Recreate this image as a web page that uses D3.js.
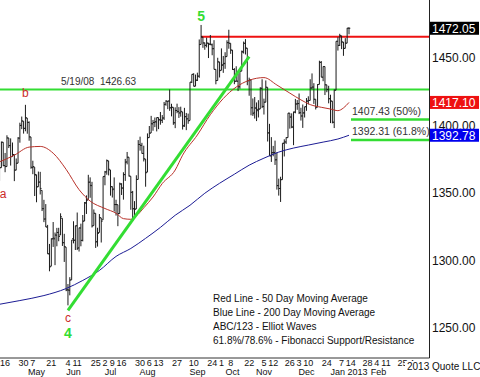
<!DOCTYPE html>
<html>
<head>
<meta charset="utf-8">
<script src="https://cdn.jsdelivr.net/npm/d3@7"></script>
<style>
  body { margin: 0; background: #fff; }
  svg { display: block; font-family: "Liberation Sans", Arial, sans-serif; }
</style>
</head>
<body>
<div id="chart"></div>
<script>
// S&P 500 daily OHLC, Apr 10 2012 .. Jan 11 2013, with Elliott wave marks,
// 50/200 day moving averages and Fibonacci levels.

const days = [
  "2012-04-10","2012-04-11","2012-04-12","2012-04-13","2012-04-16","2012-04-17","2012-04-18","2012-04-19","2012-04-20","2012-04-23","2012-04-24","2012-04-25","2012-04-26","2012-04-27","2012-04-30",
  "2012-05-01","2012-05-02","2012-05-03","2012-05-04","2012-05-07","2012-05-08","2012-05-09","2012-05-10","2012-05-11","2012-05-14","2012-05-15","2012-05-16","2012-05-17","2012-05-18","2012-05-21","2012-05-22","2012-05-23","2012-05-24","2012-05-25","2012-05-29","2012-05-30","2012-05-31",
  "2012-06-01","2012-06-04","2012-06-05","2012-06-06","2012-06-07","2012-06-08","2012-06-11","2012-06-12","2012-06-13","2012-06-14","2012-06-15","2012-06-18","2012-06-19","2012-06-20","2012-06-21","2012-06-22","2012-06-25","2012-06-26","2012-06-27","2012-06-28","2012-06-29",
  "2012-07-02","2012-07-03","2012-07-05","2012-07-06","2012-07-09","2012-07-10","2012-07-11","2012-07-12","2012-07-13","2012-07-16","2012-07-17","2012-07-18","2012-07-19","2012-07-20","2012-07-23","2012-07-24","2012-07-25","2012-07-26","2012-07-27","2012-07-30","2012-07-31",
  "2012-08-01","2012-08-02","2012-08-03","2012-08-06","2012-08-07","2012-08-08","2012-08-09","2012-08-10","2012-08-13","2012-08-14","2012-08-15","2012-08-16","2012-08-17","2012-08-20","2012-08-21","2012-08-22","2012-08-23","2012-08-24","2012-08-27","2012-08-28","2012-08-29","2012-08-30","2012-08-31",
  "2012-09-04","2012-09-05","2012-09-06","2012-09-07","2012-09-10","2012-09-11","2012-09-12","2012-09-13","2012-09-14","2012-09-17","2012-09-18","2012-09-19","2012-09-20","2012-09-21","2012-09-24","2012-09-25","2012-09-26","2012-09-27","2012-09-28",
  "2012-10-01","2012-10-02","2012-10-03","2012-10-04","2012-10-05","2012-10-08","2012-10-09","2012-10-10","2012-10-11","2012-10-12","2012-10-15","2012-10-16","2012-10-17","2012-10-18","2012-10-19","2012-10-22","2012-10-23","2012-10-24","2012-10-25","2012-10-26","2012-10-31",
  "2012-11-01","2012-11-02","2012-11-05","2012-11-06","2012-11-07","2012-11-08","2012-11-09","2012-11-12","2012-11-13","2012-11-14","2012-11-15","2012-11-16","2012-11-19","2012-11-20","2012-11-21","2012-11-23","2012-11-26","2012-11-27","2012-11-28","2012-11-29","2012-11-30",
  "2012-12-03","2012-12-04","2012-12-05","2012-12-06","2012-12-07","2012-12-10","2012-12-11","2012-12-12","2012-12-13","2012-12-14","2012-12-17","2012-12-18","2012-12-19","2012-12-20","2012-12-21","2012-12-24","2012-12-26","2012-12-27","2012-12-28","2012-12-31",
  "2013-01-02","2013-01-03","2013-01-04","2013-01-07","2013-01-08","2013-01-09","2013-01-10","2013-01-11"
];

const opens = [
  1382.2,1358.98,1368.77,1387.61,1370.27,1369.57,1390.78,1385.08,1376.96,1378.53,1366.97,1372.11,1390.64,1400.19,1403.26,
  1397.86,1405.5,1402.32,1391.51,1368.79,1369.16,1363.2,1354.58,1358.11,1351.93,1338.36,1330.78,1324.82,1305.05,1295.73,1316.09,1316.02,1318.72,1320.81,1318.9,1331.25,1313.09,
  1309.87,1278.29,1277.82,1285.61,1316.15,1314.99,1325.72,1309.4,1324.02,1314.88,1329.19,1342.42,1344.83,1358.04,1355.43,1325.92,1334.9,1314.09,1320.71,1331.52,1330.12,
  1362.33,1365.75,1373.72,1367.09,1354.66,1352.96,1341.4,1341.29,1334.81,1356.5,1353.68,1363.58,1373.01,1376.51,1362.34,1350.52,1338.35,1338.17,1360.05,1385.94,1385.27,
  1379.32,1375.13,1365.45,1391.04,1394.46,1401.23,1402.26,1402.58,1405.87,1404.36,1403.89,1405.57,1415.84,1417.85,1418.13,1413.09,1413.49,1401.99,1411.13,1410.44,1409.32,1410.08,1400.07,
  1406.54,1404.94,1403.74,1432.12,1437.92,1429.13,1433.56,1436.56,1460.07,1465.42,1461.19,1459.5,1461.05,1460.34,1459.76,1456.94,1441.6,1433.36,1447.13,
  1440.9,1444.99,1446.05,1451.08,1461.4,1460.93,1455.9,1441.48,1432.82,1432.84,1428.75,1440.31,1454.22,1460.94,1457.34,1433.21,1433.74,1413.2,1409.74,1412.97,1410.99,
  1412.2,1427.59,1414.02,1417.26,1428.27,1394.53,1377.55,1379.86,1380.03,1374.64,1355.41,1353.36,1359.88,1386.82,1387.79,1391.03,1409.15,1406.29,1398.77,1409.96,1415.95,
  1416.34,1409.46,1407.05,1409.43,1413.95,1418.07,1418.55,1427.84,1428.48,1419.45,1413.54,1430.47,1446.79,1435.81,1443.67,1430.15,1426.66,1419.83,1418.1,1402.43,
  1426.19,1462.42,1459.37,1466.47,1461.89,1457.15,1461.02,1472.12
];

const highs = [
  1383.0,1374.71,1388.13,1387.61,1379.66,1392.76,1390.78,1390.46,1387.4,1378.53,1375.57,1391.37,1402.09,1406.64,1403.26,
  1415.32,1405.5,1403.07,1391.51,1373.91,1369.16,1363.73,1365.88,1365.66,1351.93,1344.94,1341.78,1326.36,1312.24,1316.39,1328.49,1320.71,1324.14,1324.2,1334.93,1331.25,1319.74,
  1309.87,1282.55,1287.62,1315.13,1329.05,1325.81,1335.52,1324.31,1327.28,1333.68,1343.32,1348.22,1363.46,1361.57,1358.27,1337.82,1334.9,1324.24,1334.4,1331.52,1362.17,
  1366.35,1374.81,1373.85,1367.09,1354.87,1361.54,1345.0,1341.29,1357.7,1357.26,1365.36,1375.26,1380.39,1376.51,1362.34,1351.53,1343.98,1363.13,1389.19,1391.74,1387.16,
  1385.03,1375.13,1394.16,1399.63,1407.14,1404.14,1405.95,1405.98,1405.87,1410.03,1407.73,1417.44,1418.71,1418.13,1426.68,1416.12,1413.49,1413.46,1416.17,1413.63,1413.95,1410.08,1413.09,
  1409.31,1408.81,1432.12,1437.92,1438.74,1437.76,1439.15,1463.76,1474.51,1465.63,1461.47,1465.15,1461.23,1467.07,1460.72,1463.24,1441.6,1450.2,1447.13,
  1457.14,1451.52,1454.3,1463.14,1470.96,1460.93,1455.9,1442.52,1443.9,1438.43,1441.31,1455.51,1462.2,1464.02,1457.34,1435.46,1433.74,1420.04,1421.12,1417.09,1418.76,
  1428.35,1434.27,1419.9,1433.38,1428.27,1401.23,1391.39,1384.87,1388.81,1380.13,1360.62,1362.03,1386.89,1389.77,1391.25,1409.16,1409.15,1409.01,1410.31,1419.7,1418.86,
  1423.73,1413.14,1415.56,1413.95,1420.34,1421.64,1434.27,1438.59,1431.36,1419.45,1430.67,1448.0,1447.75,1443.7,1443.67,1430.15,1429.42,1422.8,1418.1,1426.74,
  1462.43,1465.47,1467.94,1466.47,1461.89,1464.73,1472.3,1472.75
];

const lows = [
  1357.38,1358.98,1368.77,1369.85,1365.38,1369.57,1383.29,1370.3,1376.96,1358.79,1366.82,1372.11,1387.28,1397.31,1394.0,
  1395.73,1393.92,1388.71,1367.96,1363.94,1347.75,1343.13,1354.58,1348.89,1336.61,1328.41,1324.79,1304.86,1291.98,1295.73,1310.04,1296.53,1310.5,1314.23,1318.9,1310.76,1298.9,
  1277.25,1266.74,1274.16,1285.61,1312.68,1307.77,1307.73,1306.62,1310.51,1314.14,1329.19,1334.46,1344.83,1346.45,1324.41,1325.92,1309.27,1310.3,1320.71,1313.29,1330.12,
  1355.7,1363.53,1363.02,1348.03,1346.65,1336.27,1333.25,1325.41,1334.81,1348.51,1345.07,1358.96,1371.21,1362.19,1337.56,1329.24,1331.5,1338.17,1360.05,1381.37,1379.17,
  1373.35,1354.65,1365.45,1391.04,1394.46,1396.13,1398.8,1395.62,1397.32,1400.6,1401.83,1404.15,1414.67,1412.12,1410.86,1406.78,1400.5,1398.04,1409.11,1405.59,1406.57,1397.01,1398.96,
  1396.56,1401.25,1403.74,1431.45,1428.98,1429.13,1432.99,1435.34,1460.07,1457.55,1456.13,1457.88,1449.98,1459.51,1452.06,1441.59,1430.53,1433.36,1435.6,
  1440.9,1439.01,1441.99,1451.08,1456.89,1453.1,1441.18,1430.64,1432.82,1425.53,1427.24,1440.31,1453.35,1452.63,1429.85,1422.06,1407.56,1407.1,1405.14,1403.28,1405.95,
  1412.2,1412.91,1408.13,1417.26,1388.14,1377.51,1373.03,1377.19,1370.78,1352.5,1348.05,1343.35,1359.88,1377.04,1386.39,1391.03,1397.68,1398.03,1385.43,1409.04,1411.63,
  1408.46,1403.65,1398.23,1405.93,1410.9,1415.64,1418.55,1426.76,1416.0,1411.88,1413.54,1430.47,1435.8,1432.82,1422.58,1424.66,1416.43,1401.8,1401.58,1398.11,
  1426.19,1455.53,1458.99,1456.62,1451.64,1457.15,1461.02,1467.58
];

const closes = [
  1358.59,1368.71,1387.57,1370.26,1369.57,1390.78,1385.14,1376.92,1378.53,1366.94,1371.97,1390.69,1399.98,1403.36,1397.91,
  1405.82,1402.31,1391.57,1369.1,1369.58,1363.72,1354.58,1357.99,1353.39,1338.35,1330.66,1324.8,1304.86,1295.22,1315.99,1316.63,1318.86,1320.68,1317.82,1332.42,1313.32,1310.33,
  1278.04,1278.18,1285.5,1315.13,1314.99,1325.66,1308.93,1324.18,1314.88,1329.1,1342.84,1344.78,1357.98,1355.69,1325.51,1335.02,1313.72,1319.99,1331.85,1329.04,1362.16,
  1365.51,1374.02,1367.58,1354.68,1352.46,1341.47,1341.45,1334.76,1356.78,1353.64,1363.67,1372.78,1376.51,1362.66,1350.52,1338.31,1337.89,1360.02,1385.97,1385.3,1379.32,
  1375.32,1365.0,1390.99,1394.23,1401.35,1402.22,1402.8,1405.87,1404.11,1403.93,1405.53,1415.51,1418.16,1418.13,1413.17,1413.49,1402.08,1411.13,1410.44,1409.3,1410.49,1399.48,1406.58,
  1404.94,1403.44,1432.12,1437.92,1429.08,1433.56,1436.56,1459.99,1465.77,1461.19,1459.32,1461.05,1460.26,1460.15,1456.89,1441.59,1433.32,1447.15,1440.67,
  1444.49,1445.75,1450.99,1461.4,1460.93,1455.88,1441.48,1432.56,1432.84,1428.59,1440.13,1454.92,1460.91,1457.34,1433.19,1433.82,1413.11,1408.75,1412.97,1411.94,1412.16,
  1427.59,1414.2,1417.26,1428.39,1394.53,1377.51,1379.85,1380.03,1374.53,1355.49,1353.33,1359.88,1386.89,1387.81,1391.03,1409.15,1406.29,1398.94,1409.93,1415.95,1416.18,
  1409.46,1407.05,1409.28,1413.94,1418.07,1418.55,1427.84,1428.48,1419.45,1413.58,1430.36,1446.79,1435.81,1443.69,1430.15,1426.66,1419.83,1418.1,1402.43,1426.19,
  1462.42,1459.37,1466.47,1461.89,1457.15,1461.02,1472.12,1472.05
];

// moving averages at these dates
const ma50Days = ["2012-04-10","2012-04-23","2012-05-03","2012-05-11","2012-05-22","2012-06-01","2012-06-12","2012-06-20","2012-07-02","2012-07-11","2012-07-17","2012-07-23","2012-07-26","2012-08-01","2012-08-08","2012-08-15","2012-08-24","2012-08-30","2012-09-12","2012-09-21","2012-10-02","2012-10-11","2012-10-22","2012-11-05","2012-11-14","2012-11-26","2012-12-04","2012-12-11","2012-12-19","2012-12-27","2013-01-03","2013-01-08","2013-01-11"];
const ma50Vals = [1372.5,1378,1384,1384.5,1379.5,1367.5,1352.5,1344,1338.5,1335,1331,1330.5,1333,1339,1347,1357,1367,1378,1393,1408,1420,1428.5,1433.5,1435.5,1430,1424,1419,1415.5,1413.5,1412.2,1411,1413,1417.10];

const ma200Days = ["2012-04-10","2012-04-26","2012-05-15","2012-06-01","2012-06-14","2012-06-27","2012-07-11","2012-07-23","2012-08-02","2012-08-14","2012-08-24","2012-09-06","2012-09-18","2012-09-28","2012-10-10","2012-10-22","2012-11-05","2012-11-15","2012-11-28","2012-12-10","2012-12-20","2013-01-03","2013-01-11"];
const ma200Vals = [1267.3,1270.3,1274.0,1279.2,1285.2,1292.6,1303.0,1308.9,1316.4,1324.5,1333.5,1340.9,1349.8,1357.2,1363.9,1370.6,1375.8,1380.3,1383.3,1385.5,1387.7,1390.0,1392.78];

// wave 4 -> 5 trend line
const trendDays = ["2012-06-04","2012-10-22"];
const trendVals = [1263, 1451];

const resistance = 1465.77;        // red line from the Sep 14 close
const resistanceFrom = "2012-09-14";
const oldHigh = 1426.63;           // 5/19/08 level
const oldHighLabel = "5/19/08  1426.63";
const fibVals = [1407.43, 1392.31];
const fibLabels = ["1407.43 (50%)", "1392.31 (61.8%)"];

const waveLabels = ["a", "b", "c", "4", "5"];
const waveDays = ["2012-04-10", "2012-05-01", "2012-06-04", "2012-06-04", "2012-09-14"];
const waveVals = [1357.38, 1415.32, 1266.74, 1266.74, 1474.51];

const priceTicks = [1450, 1400, 1350, 1300, 1250];

const weekTicks = ["2012-04-16","2012-04-30","2012-05-07","2012-05-21","2012-06-04","2012-06-11","2012-06-25","2012-07-02","2012-07-09","2012-07-16","2012-07-30","2012-08-06","2012-08-13","2012-08-27","2012-09-10","2012-09-24","2012-10-01","2012-10-08","2012-10-22","2012-11-05","2012-11-12","2012-11-26","2012-12-03","2012-12-10","2012-12-24","2013-01-07","2013-01-14","2013-01-28","2013-02-04","2013-02-11","2013-02-25","2013-03-04"];
const monthNames = ["May","Jun","Jul","Aug","Sep","Oct","Nov","Dec","Jan 2013","Feb"];
const monthAt = ["2012-05-09","2012-06-07","2012-07-06","2012-08-03","2012-09-12","2012-10-09","2012-11-05","2012-12-07","2013-01-11","2013-02-05"];
const holidays = ["2013-01-21","2013-02-18"];

const legend = [
  "Red Line - 50 Day Moving Average",
  "Blue Line - 200 Day Moving Average",
  "ABC/123 - Elliot Waves",
  "61.8%/78.6% - Fibonacci Support/Resistance"
];

// ---------------------------------------------------------------
const W = 480, H = 377;
const plotR = 429, plotB = 357.5;
const GREEN = "#33dd33", RED = "#ee1111";

const dayIdx = new Map(days.map((d, i) => [d, i]));
// trading-day index, continuing past the data for the empty right side
function idx(d) {
  if (dayIdx.has(d)) return dayIdx.get(d);
  const t = new Date(days[days.length - 1] + "T00:00:00Z");
  const end = new Date(d + "T00:00:00Z");
  let i = days.length - 1;
  while (t < end) {
    t.setUTCDate(t.getUTCDate() + 1);
    const wd = t.getUTCDay();
    const s = t.toISOString().slice(0, 10);
    if (wd !== 0 && wd !== 6 && !holidays.includes(s)) i++;
  }
  return i;
}

const x = d3.scaleLinear().domain([0, days.length - 1]).range([-2.3, 349]);
const y = d3.scaleLinear().domain([1228.1, 1493]).range([plotB, 0]);

const svg = d3.select("#chart").append("svg").attr("width", W).attr("height", H);
svg.append("rect").attr("width", W).attr("height", H).attr("fill", "#fff");
svg.append("defs").append("clipPath").attr("id", "plot")
  .append("rect").attr("x", 0).attr("y", 0).attr("width", plotR).attr("height", plotB);
const g = svg.append("g").attr("clip-path", "url(#plot)");

// horizontal levels
g.append("line").attr("x1", 0).attr("x2", plotR)
  .attr("y1", y(oldHigh)).attr("y2", y(oldHigh))
  .attr("stroke", GREEN).attr("stroke-width", 2);
g.append("line").attr("x1", x(idx(resistanceFrom))).attr("x2", plotR)
  .attr("y1", y(resistance)).attr("y2", y(resistance))
  .attr("stroke", RED).attr("stroke-width", 2);

// OHLC bars
const n = days.length;
const bars = d3.range(n).map((i) => {
  const cx = x(i);
  return `M${cx},${y(highs[i])}V${y(lows[i])}M${cx - 1.3},${y(opens[i])}H${cx}M${cx},${y(closes[i])}H${cx + 1.3}`;
}).join("");
g.append("path").attr("d", bars).attr("fill", "none").attr("stroke", "#1b1b1b").attr("stroke-width", 1);

// moving averages
const maLine = d3.line().x((d) => x(idx(d[0]))).y((d) => y(d[1])).curve(d3.curveMonotoneX);
g.append("path").datum(ma50Days.map((d, i) => [d, ma50Vals[i]]))
  .attr("d", maLine).attr("fill", "none").attr("stroke", "#b8322a").attr("stroke-width", 1);
g.append("path").datum(ma200Days.map((d, i) => [d, ma200Vals[i]]))
  .attr("d", maLine).attr("fill", "none").attr("stroke", "#1c1c94").attr("stroke-width", 1);

// trend line 4 -> 5
g.append("line")
  .attr("x1", x(idx(trendDays[0]))).attr("y1", y(trendVals[0]))
  .attr("x2", x(idx(trendDays[1]))).attr("y2", y(trendVals[1]))
  .attr("stroke", GREEN).attr("stroke-width", 3);

// fibonacci levels to the right of the last bar
const fibX = x(n - 1) + 2;
fibVals.forEach((v, k) => {
  g.append("line").attr("x1", fibX).attr("x2", plotR)
    .attr("y1", y(v) + 4).attr("y2", y(v) + 4)
    .attr("stroke", GREEN).attr("stroke-width", 2.5);
  g.append("text").attr("x", fibX + 1).attr("y", y(v) - 0.5)
    .attr("font-size", 10.5).attr("fill", "#333").text(fibLabels[k]);
});

g.append("text").attr("x", 61).attr("y", y(oldHigh) - 5)
  .attr("font-size", 10).attr("fill", "#333").attr("xml:space", "preserve")
  .style("white-space", "pre").text(oldHighLabel);

// wave labels
waveLabels.forEach((t, k) => {
  const isNum = /\d/.test(t);
  const cx = x(idx(waveDays[k]));
  const vy = y(waveVals[k]);
  const off = { a: 15, b: -8, c: 17, "4": 33, "5": -4 }[t];
  g.append("text")
    .attr("x", t === "a" ? Math.max(3, cx) : cx)
    .attr("y", vy + off)
    .attr("text-anchor", "middle")
    .attr("font-size", isNum ? 14 : 12)
    .attr("font-weight", isNum ? "bold" : "normal")
    .attr("fill", isNum ? GREEN : "#cc2a2a")
    .text(t);
});

// legend
svg.append("g").selectAll("text").data(legend).join("text")
  .attr("x", 213).attr("y", (d, i) => 302 + i * 14)
  .attr("font-size", 10).attr("fill", "#111").text((d) => d);

// frame lines
svg.append("line").attr("x1", 0).attr("x2", plotR + 0.5).attr("y1", plotB + 0.5).attr("y2", plotB + 0.5)
  .attr("stroke", "#333").attr("stroke-width", 1);
svg.append("line").attr("x1", plotR + 0.5).attr("x2", plotR + 0.5).attr("y1", 0).attr("y2", plotB + 0.5)
  .attr("stroke", "#222").attr("stroke-width", 1);

// right price axis
const yAxis = svg.append("g").attr("transform", `translate(${plotR},0)`)
  .call(d3.axisRight(y).tickValues(priceTicks).tickSize(0).tickPadding(3).tickFormat((d) => d.toFixed(2)));
yAxis.select(".domain").remove();
yAxis.selectAll("text").attr("font-size", 12).attr("font-family", "Liberation Sans, Arial, sans-serif").attr("fill", "#111");

// value boxes: last close, 50 MA, 200 MA
const boxes = [
  [closes[n - 1], "#000"],
  [ma50Vals[ma50Vals.length - 1], "#ee1111"],
  [ma200Vals[ma200Vals.length - 1], "#0000ee"]
];
const bg = svg.append("g");
boxes.forEach(([v, c]) => {
  bg.append("rect").attr("x", plotR + 1).attr("y", y(v) - 6.5).attr("width", W - plotR - 2).attr("height", 13).attr("fill", c);
  bg.append("text").attr("x", plotR + 3).attr("y", y(v)).attr("dy", "0.36em")
    .attr("font-size", 12).attr("fill", "#fff").text(v.toFixed(2));
});

// bottom date axis
const xa = svg.append("g");
xa.selectAll("text.wk").data(weekTicks).join("text").attr("class", "wk")
  .attr("x", (d) => x(idx(d))).attr("y", 365.5).attr("text-anchor", "middle")
  .attr("font-size", 9).attr("fill", "#111").text((d) => +d.slice(8));
xa.selectAll("text.mo").data(monthNames).join("text").attr("class", "mo")
  .attr("x", (d, i) => x(idx(monthAt[i]))).attr("y", 375).attr("text-anchor", "middle")
  .attr("font-size", 9).attr("fill", "#111").text((d) => d);

// copyright
svg.append("rect").attr("x", 405).attr("y", 361).attr("width", 75).attr("height", 11).attr("fill", "#fff");
svg.append("text").attr("x", 407).attr("y", 370).attr("font-size", 10).attr("fill", "#111").text("2013 Quote LLC");
</script>
</body>
</html>
